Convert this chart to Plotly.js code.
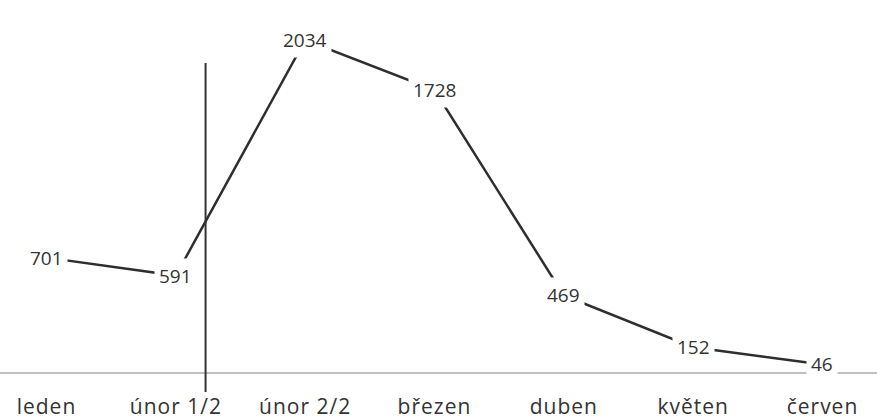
<!DOCTYPE html>
<html>
<head>
<meta charset="utf-8">
<script src="https://cdn.plot.ly/plotly-3.0.1.min.js"></script>
<style>
html,body{margin:0;padding:0;background:#fff;}
#chart{width:877px;height:419px;}
.xtick text{letter-spacing:1px;}
</style>
</head>
<body>
<div id="chart"></div>
<script>
const categories = ["leden", "únor 1/2", "únor 2/2", "březen", "duben", "květen", "červen"];
const values = [701, 591, 2034, 1728, 469, 152, 46];
const dividerPosition = 1.23;

const trace = {
  x: categories,
  y: values,
  type: "scatter",
  mode: "lines",
  line: {color: "#2e2e2e", width: 2.5},
  hoverinfo: "skip"
};

const annotations = categories.map((c, i) => ({
  x: c, y: values[i], xref: "x", yref: "y",
  text: String(values[i]), showarrow: false,
  bgcolor: "#ffffff", borderpad: 4,
  font: {family: "'Open Sans', Lato, sans-serif", size: 19, color: "#333333"}
}));

const layout = {
  width: 877, height: 419,
  margin: {l: 0, r: 0, t: 0, b: 47},
  paper_bgcolor: "#ffffff", plot_bgcolor: "#ffffff",
  showlegend: false,
  xaxis: {
    type: "category",
    range: [-0.3595, 6.4215],
    showgrid: false, zeroline: false,
    showline: true, linecolor: "#c0c0c0", linewidth: 1.5,
    ticks: "", ticklabelstandoff: 15,
    tickfont: {family: "'Open Sans', Lato, sans-serif", size: 21, color: "#333333"}
  },
  yaxis: {
    range: [0, 2280],
    showgrid: false, zeroline: false, showline: false,
    showticklabels: false, ticks: ""
  },
  shapes: [{
    type: "line", xref: "x", yref: "paper",
    x0: dividerPosition, x1: dividerPosition, y0: 0.8306, y1: -0.054,
    line: {color: "#333333", width: 2}
  }],
  annotations: annotations
};

Plotly.newPlot("chart", [trace], layout, {displayModeBar: false, staticPlot: true});
</script>
</body>
</html>
